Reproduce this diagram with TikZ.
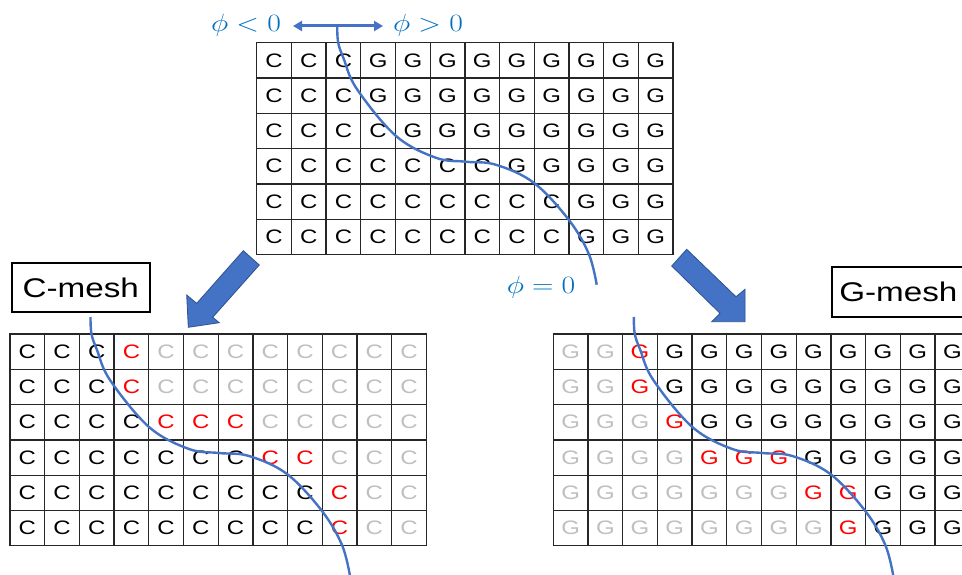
\documentclass[tikz,border=0pt]{standalone}
\usepackage{fontspec}
\usepackage{graphicx}
\usetikzlibrary{arrows.meta,calc}
\newfontfamily\arialw[FakeStretch=1.23]{Liberation Sans}
\definecolor{arrowblue}{RGB}{68,114,196}
\definecolor{arrowedge}{RGB}{47,82,143}
\definecolor{phiblue}{RGB}{0,112,192}
\definecolor{cellred}{RGB}{255,0,0}
\definecolor{cellgray}{RGB}{191,191,191}
\newcommand\meshlines[2]{%
  \foreach \ii in {0,...,12} \draw[gl] ({#1+\ii*34.7},#2) -- ({#1+\ii*34.7},{#2+6*35.3});
  \foreach \jj in {0,...,6} \draw[gl] (#1,{#2+\jj*35.3}) -- ({#1+12*34.7},{#2+\jj*35.3});
}
\newcommand\phicurve[2]{%
  \begin{scope}[shift={(#1,#2)}]
    \draw[phicurve] plot[smooth,tension=0.6] coordinates {(80.5,-17) (81.5,0) (87,16) (100,46) (139,93) (179,115) (209,119) (239,122) (277,140) (312,177) (332,211) (340,242)};
  \end{scope}
}
\begin{document}
\begin{tikzpicture}[x=1pt,y=-1pt,
  gl/.style={draw=black!85,line width=1.3pt,line cap=rect},
  cell/.style={inner sep=0pt,font=\arialw\fontsize{19.5}{20}\selectfont},
  meshlabel/.style={draw=black,line width=2pt,inner sep=0pt,font=\arialw\fontsize{27}{30}\selectfont},
  philabel/.style={inner sep=0pt,text=phiblue,font=\fontsize{24.88}{30}\selectfont},
  phicurve/.style={draw=arrowblue,line width=2.4pt},
  blockarrow/.style={fill=arrowblue,draw=arrowedge,line width=0.8pt,line join=miter},
  dblarrow/.style={draw=arrowblue,line width=3pt,arrows={Triangle[length=9pt,width=10pt]-Triangle[length=9pt,width=10pt]}}
]
\useasboundingbox (0,0) rectangle (962,575);
\clip (0,0) rectangle (962,575);
\fill[white] (0,0) rectangle (962,575);

% ---------- top mesh ----------
\meshlines{256.7}{42.7}
\foreach \ri/\na in {0/3,1/3,2/4,3/7,4/9,5/9}{
  \foreach \ci in {0,...,11}{
    \node[cell] (t-\ri-\ci) at ({256.7+(\ci+0.5)*34.7},{42.7+(\ri+0.5)*35.3}) {\ifnum\ci<\na C\else G\fi};
  }
}

% ---------- C-mesh ----------
\meshlines{10}{334}
\foreach \ri/\ka/\kb in {0/3/4,1/3/4,2/4/7,3/7/9,4/9/10,5/9/10}{
  \foreach \ci in {0,...,11}{
    \ifnum\ci<\ka \def\cc{black}\else\ifnum\ci<\kb \def\cc{cellred}\else\def\cc{cellgray}\fi\fi
    \node[cell,text=\cc] (l-\ri-\ci) at ({10+(\ci+0.5)*34.7},{334+(\ri+0.5)*35.3}) {C};
  }
}

% ---------- G-mesh ----------
\meshlines{553.3}{334}
\foreach \ri/\ga/\gb in {0/2/3,1/2/3,2/3/4,3/4/7,4/7/9,5/8/9}{
  \foreach \ci in {0,...,11}{
    \ifnum\ci<\ga \def\cc{cellgray}\else\ifnum\ci<\gb \def\cc{cellred}\else\def\cc{black}\fi\fi
    \node[cell,text=\cc] (r-\ri-\ci) at ({553.3+(\ci+0.5)*34.7},{334+(\ri+0.5)*35.3}) {G};
  }
}

% ---------- interface curves ----------
\phicurve{256.7}{42.7}
\phicurve{10}{334}
\phicurve{553.3}{334}

% ---------- labels ----------
\node[meshlabel,minimum width=138.3pt,minimum height=48.4pt] (cmesh) at (80.8,287.5) {C-mesh};
\node[meshlabel,minimum width=133.3pt,minimum height=49.4pt] (gmesh) at (898.3,292) {G-mesh};

\node[philabel,anchor=base] (phineg) at (246,31.7) {\scalebox{1.19}[1]{$\phi<0$}};
\node[philabel,anchor=base] (phipos) at (428,31.7) {\scalebox{1.19}[1]{$\phi>0$}};
\node[philabel,anchor=base] (phizero) at (541,293) {\scalebox{1.19}[1]{$\phi=0$}};

\coordinate (al) at (293,26);
\coordinate (ar) at (383,26);
\draw[dblarrow] (al) -- (ar);

% ---------- block arrows ----------
\filldraw[blockarrow] (243.3,250.7) -- (196.7,303.3) -- (186.7,295) -- (188.3,327.3) -- (219.3,322.7) -- (212.7,317.3) -- (259.3,265) -- cycle;
\filldraw[blockarrow] (686.7,249.3) -- (736,296.7) -- (745,289.3) -- (745,321.7) -- (711.7,321.7) -- (720,313.3) -- (671.7,266) -- cycle;
\end{tikzpicture}
\end{document}
